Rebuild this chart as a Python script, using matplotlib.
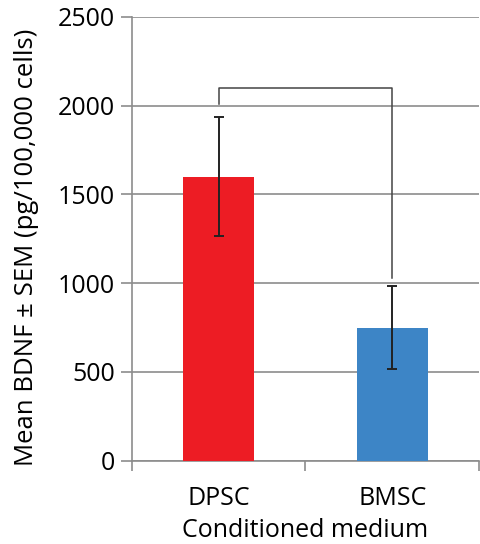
import numpy as np
import matplotlib.pyplot as plt

plt.rcParams['font.family'] = ['Open Sans', 'DejaVu Sans']

# Data
groups = ['DPSC', 'BMSC']
means = [1600, 750]
err_up = [335, 235]
err_down = [335, 235]
colors = ['#ED1C24', '#3D85C6']
bracket_y = 2100
bracket_ends = [2010, 1030]

fig = plt.figure(figsize=(4.81, 5.44), dpi=100)
ax = fig.add_axes([0.274, 0.153, 0.722, 0.816])

x = np.arange(len(groups))
ax.bar(x, means, width=0.41, color=colors, zorder=3)
ax.errorbar(x, means, yerr=[err_down, err_up], fmt='none', ecolor='#222222',
            elinewidth=1.4, capsize=3.5, capthick=1.4, zorder=4)

# significance bracket
ax.plot([x[0], x[0], x[1], x[1]],
        [bracket_ends[0], bracket_y, bracket_y, bracket_ends[1]],
        color='#444444', lw=1.1, zorder=4)

ax.set_ylim(0, 2500)
ax.set_xlim(-0.5, 1.5)
ax.set_yticks(np.arange(0, 2501, 500))
ax.yaxis.grid(True, color='#8c8c8c', lw=1.2, zorder=0)
ax.set_axisbelow(True)

ax.set_xticks(x)
ax.set_xticklabels(groups)
ax.set_xticks([-0.5, 0.5, 1.5], minor=True)
ax.tick_params(axis='x', which='major', length=0, pad=18, labelsize=18)
ax.tick_params(axis='x', which='minor', length=7, color='#8c8c8c', width=1.2)
ax.tick_params(axis='y', length=8, color='#8c8c8c', width=1.2, labelsize=18, pad=4)

for s in ['top', 'right']:
    ax.spines[s].set_visible(False)
for s in ['left', 'bottom']:
    ax.spines[s].set_color('#8c8c8c')
    ax.spines[s].set_linewidth(1.2)

ax.set_xlabel('Conditioned medium', fontsize=18, labelpad=5)
ax.set_ylabel('Mean BDNF ± SEM (pg/100,000 cells)', fontsize=18.5, labelpad=14)
ax.yaxis.label.set_y(0.48)

fig.savefig('out.png', dpi=100)
